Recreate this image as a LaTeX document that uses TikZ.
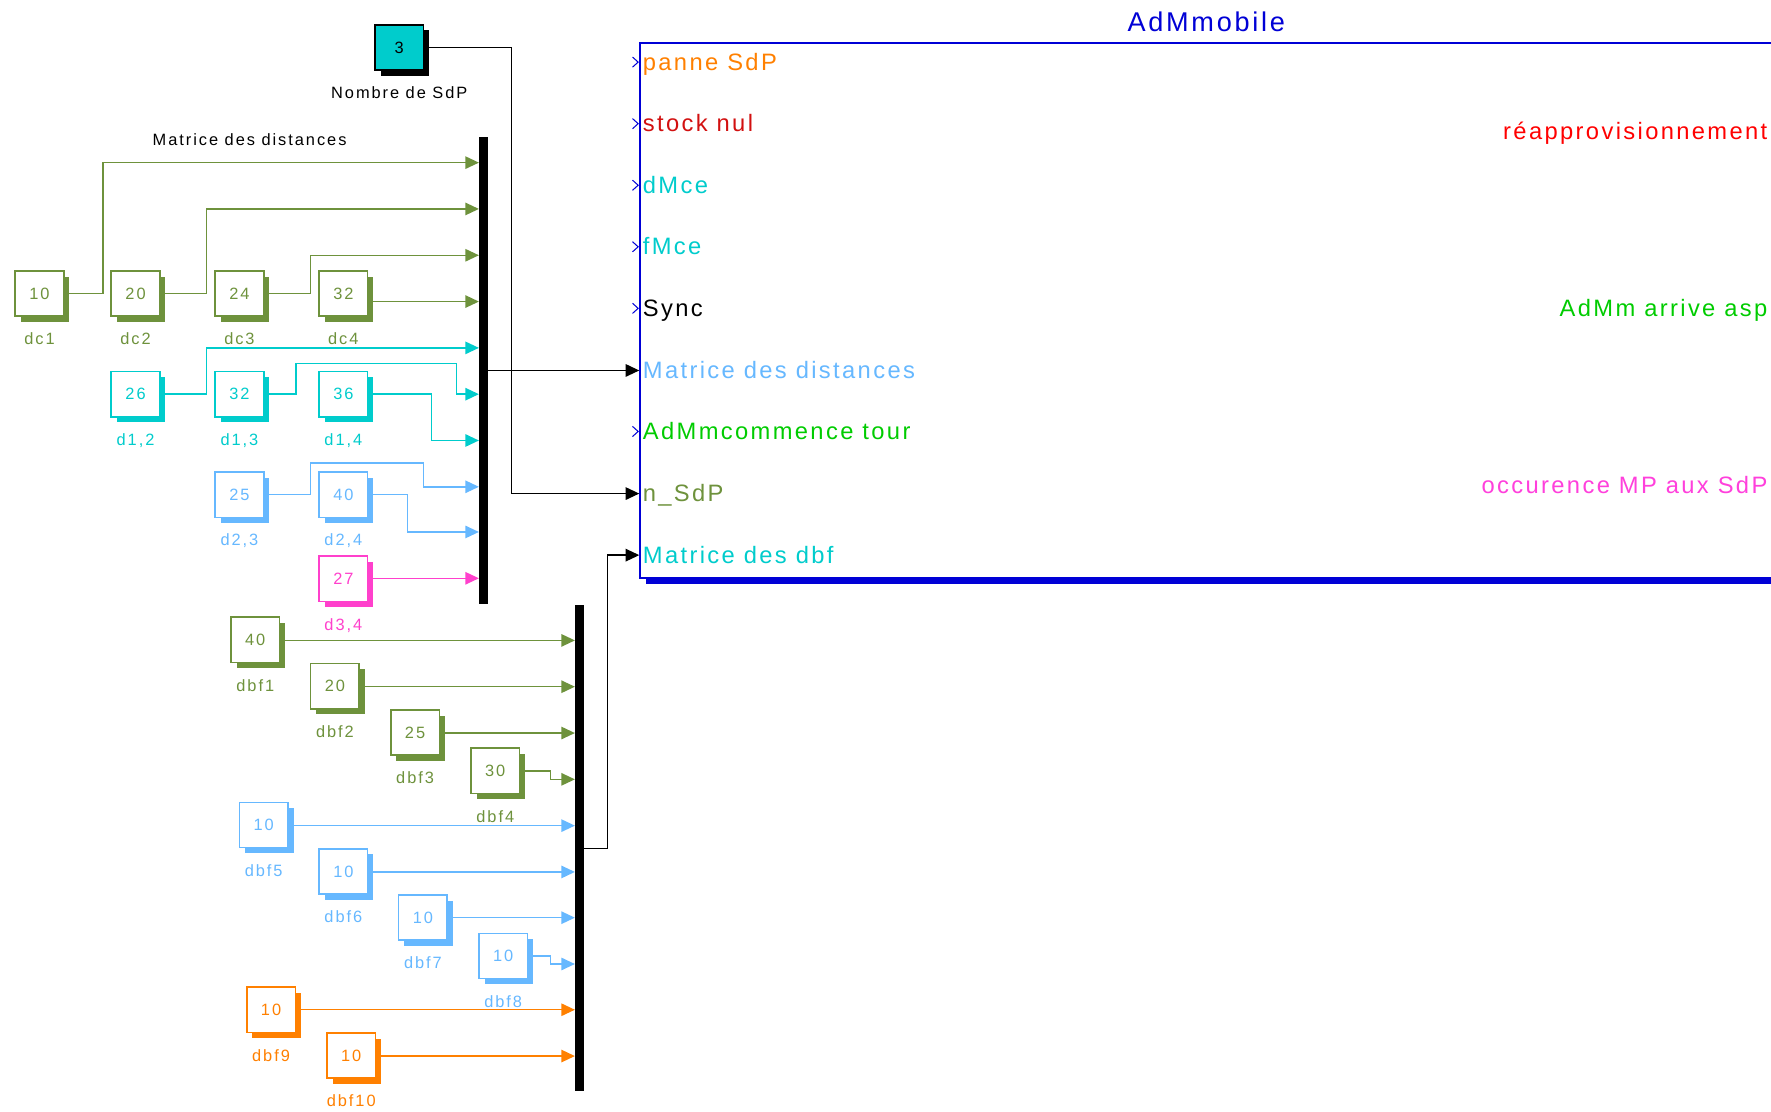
\documentclass[tikz,border=0pt]{standalone}
\usepackage{fontspec}
\setmainfont{Liberation Sans}
\newfontfamily\lblface[LetterSpace=12]{Liberation Sans}
\newfontfamily\portface[LetterSpace=10]{Liberation Sans}
\usetikzlibrary{arrows.meta,shadows}

\definecolor{sgreen}{RGB}{110,146,60}
\definecolor{scyan}{RGB}{0,204,204}
\definecolor{sblue}{RGB}{102,184,255}
\definecolor{smag}{RGB}{255,64,204}
\definecolor{sorange}{RGB}{255,128,0}
\definecolor{admblue}{RGB}{0,0,214}
\definecolor{pred}{RGB}{210,16,16}
\definecolor{outred}{RGB}{255,0,0}
\definecolor{lgreen}{RGB}{0,204,0}
\definecolor{outmag}{RGB}{255,64,220}

\newcommand\blkfont{\lblface\fontsize{14.5}{17}\selectfont}
\newcommand\portfont{\portface\fontsize{21}{25}\selectfont}
\newcommand\titlefont{\portface\fontsize{24}{28}\selectfont}

\tikzset{
  constbox/.style={draw=#1, fill=white, line width=1.4pt, minimum width=43pt,
    minimum height=40pt, inner sep=0pt, text=#1, font=\blkfont,
    drop shadow={shadow xshift=5pt, shadow yshift=-5pt, fill=#1, opacity=1}},
  captxt/.style={font=\blkfont, inner sep=0pt, text height=10.5pt, text depth=0pt},
  sigline/.style={draw=#1, line width=1.3pt, -{Triangle[length=12pt,width=11pt]}},
  busbar/.style={fill=black, minimum width=8pt, inner sep=0pt},
  chev/.style={draw=admblue, line width=0.9pt},
  portlbl/.style={font=\portfont, inner sep=0pt, text height=15pt, text depth=0.6pt},
  admbox/.style={draw=admblue, fill=white, line width=1.8pt, minimum width=1006pt,
    minimum height=474pt, anchor=north west, inner sep=0pt,
    drop shadow={shadow xshift=5pt, shadow yshift=-5pt, fill=admblue, opacity=1}},
}

% constant block with its caption underneath
\newcommand\constblk[6]{%
  \node[constbox=#2] (#1) at (#3,#4) {#5};
  \node[captxt, text=#2, anchor=north] (#1-cap) at ([yshift=-14pt]#1.south) {#6};}

\begin{document}
\begin{tikzpicture}[x=1pt,y=-1pt]
\useasboundingbox (0,0) rectangle (1568,984);
\clip (0,0) rectangle (1568,984);
\fill[white] (0,0) rectangle (1568,984);

% ---------- subsystem AdMmobile ----------
\node[admbox] (adm) at (566,37) {};
\node[font=\titlefont, text=admblue, inner sep=0pt] (admtitle) at (1068,19) {AdMmobile};

\foreach \n/\y in {1/55,2/109.5,3/164,4/218.5,5/273,6/328,7/382,8/437,9/491.5}
  \coordinate (p\n) at (566,\y);

\node[portlbl, anchor=west, text=sorange] (l1) at (569,55) {panne SdP};
\node[portlbl, anchor=west, text=pred] (l2) at (569,109.5) {stock nul};
\node[portlbl, anchor=west, text=scyan] (l3) at (569,164) {dMce};
\node[portlbl, anchor=west, text=scyan] (l4) at (569,218.5) {fMce};
\node[portlbl, anchor=west, text=black] (l5) at (569,273) {Sync};
\node[portlbl, anchor=west, text=sblue] (l6) at (569,328) {Matrice des distances};
\node[portlbl, anchor=west, text=lgreen] (l7) at (569,382) {AdMmcommence tour};
\node[portlbl, anchor=west, text=sgreen] (l8) at (569,437) {n\_SdP};
\node[portlbl, anchor=west, text=scyan] (l9) at (569,491.5) {Matrice des dbf};

\node[portlbl, anchor=east, text=outred] (o1) at (1565,116) {réapprovisionnement};
\node[portlbl, anchor=east, text=lgreen] (o2) at (1565,273) {AdMm arrive asp};
\node[portlbl, anchor=east, text=outmag] (o3) at (1565,430) {occurence MP aux SdP};

% unconnected input ports
\foreach \n in {1,2,3,4,5,7}
  \draw[chev] ([xshift=-6pt,yshift=4.5pt]p\n) -- ([xshift=-1pt]p\n) -- ([xshift=-6pt,yshift=-4.5pt]p\n);

% ---------- number of stations ----------
\node[constbox=black, fill=scyan] (nsdp) at (353.5,42) {3};
\node[captxt, text=black, anchor=north] (nsdp-cap) at ([yshift=-14pt]nsdp.south) {Nombre de SdP};

% ---------- distance matrix ----------
\node[captxt, text=black] (muxname) at (221,124) {Matrice des distances};
\node[busbar, minimum height=414pt] (bus1) at (428,328) {};
\foreach \n/\y in {1/144,2/185,3/226,4/267,5/308,6/349,7/390,8/431,9/471,10/512}
  \coordinate (b\n) at (424,\y);

\constblk{dc1}{sgreen}{35}{260}{10}{dc1}
\constblk{dc2}{sgreen}{120}{260}{20}{dc2}
\constblk{dc3}{sgreen}{212}{260}{24}{dc3}
\constblk{dc4}{sgreen}{304}{260}{32}{dc4}
\constblk{d12}{scyan}{120}{349}{26}{d1,2}
\constblk{d13}{scyan}{212}{349}{32}{d1,3}
\constblk{d14}{scyan}{304}{349}{36}{d1,4}
\constblk{d23}{sblue}{212}{438}{25}{d2,3}
\constblk{d24}{sblue}{304}{438}{40}{d2,4}
\constblk{d34}{smag}{304}{512.5}{27}{d3,4}

\draw[sigline=sgreen] (dc1.east) -| (91,144) -- (b1);
\draw[sigline=sgreen] (dc2.east) -| (183,185) -- (b2);
\draw[sigline=sgreen] (dc3.east) -| (275,226) -- (b3);
\draw[sigline=sgreen] (dc4.east |- b4) -- (b4);
\draw[sigline=scyan] (d12.east) -| (183,308) -- (b5);
\draw[sigline=scyan] (d13.east) -| (262,322) -| (404,349) -- (b6);
\draw[sigline=scyan] (d14.east) -| (382,390) -- (b7);
\draw[sigline=sblue] (d23.east) -| (275,410) -| (375,431) -- (b8);
\draw[sigline=sblue] (d24.east) -| (361,471) -- (b9);
\draw[sigline=smag] (d34.east |- b10) -- (b10);

% ---------- dbf matrix ----------
\node[busbar, minimum height=430pt] (bus2) at (513,751) {};
\foreach \n/\y in {1/567,2/608,3/649,4/690,5/731,6/772,7/812.5,8/853.5,9/894,10/935}
  \coordinate (c\n) at (509,\y);

\constblk{dbf1}{sgreen}{226}{566.5}{40}{dbf1}
\constblk{dbf2}{sgreen}{296.5}{607.5}{20}{dbf2}
\constblk{dbf3}{sgreen}{367.5}{648.5}{25}{dbf3}
\constblk{dbf4}{sgreen}{438.5}{682.5}{30}{dbf4}
\constblk{dbf5}{sblue}{233.5}{730.5}{10}{dbf5}
\constblk{dbf6}{sblue}{304}{771.5}{10}{dbf6}
\constblk{dbf7}{sblue}{374.5}{812.5}{10}{dbf7}
\constblk{dbf8}{sblue}{445.5}{846.5}{10}{dbf8}
\constblk{dbf9}{sorange}{240}{894}{10}{dbf9}
\constblk{dbf10}{sorange}{311}{934.5}{10}{dbf10}

\draw[sigline=sgreen] (dbf1.east |- c1) -- (c1);
\draw[sigline=sgreen] (dbf2.east |- c2) -- (c2);
\draw[sigline=sgreen] (dbf3.east |- c3) -- (c3);
\draw[sigline=sgreen] (dbf4.east) -| (487.5,690) -- (c4);
\draw[sigline=sblue] (dbf5.east |- c5) -- (c5);
\draw[sigline=sblue] (dbf6.east |- c6) -- (c6);
\draw[sigline=sblue] (dbf7.east |- c7) -- (c7);
\draw[sigline=sblue] (dbf8.east) -| (487.5,853.5) -- (c8);
\draw[sigline=sorange] (dbf9.east |- c9) -- (c9);
\draw[sigline=sorange] (dbf10.east |- c10) -- (c10);

% ---------- connections into the subsystem ----------
\draw[sigline=black] (bus1.east |- p6) -- (p6);
\draw[sigline=black] (nsdp.east) -| (453,437) -- (p8);
\draw[sigline=black] (bus2.east) -| (538,491.5) -- (p9);
\end{tikzpicture}
\end{document}
